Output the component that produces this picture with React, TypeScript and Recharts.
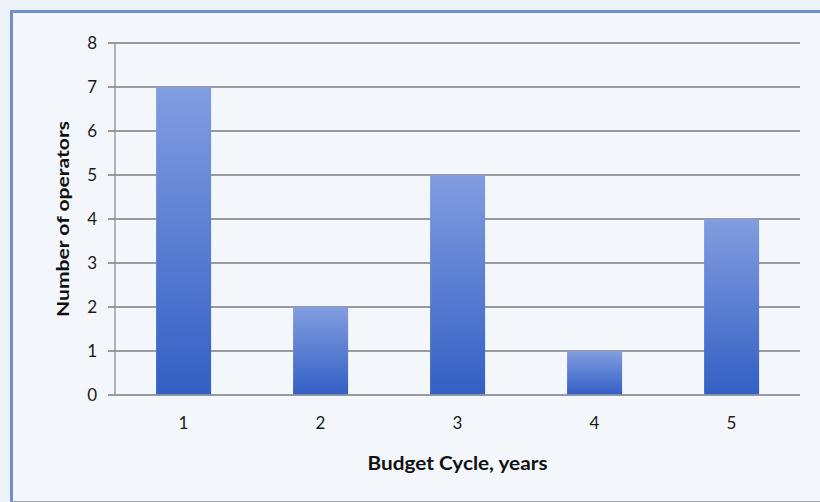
import { BarChart, Bar, XAxis, YAxis, CartesianGrid } from "recharts";

const cycles = ["1", "2", "3", "4", "5"];
const operators = [7, 2, 5, 1, 4];
const yTicks = [0, 1, 2, 3, 4, 5, 6, 7, 8];
const edgeTicks = [0, 1, 2, 3, 4, 5];
const xTitle = "Budget Cycle, years";
const yTitle = "Number of operators";

const data = cycles.map((c, i) => ({ cycle: c, operators: operators[i] }));

const font = "Lato, 'Open Sans', sans-serif";

// axis titles drawn as plain svg text so they can be centred and stretched like the source
function YTitle(props: any) {
  const vb = props.viewBox || {};
  const cx = vb.x - 8;
  const cy = vb.y + vb.height / 2;
  return (
    <text
      x={cx}
      y={cy}
      transform={`rotate(-90, ${cx}, ${cy})`}
      textAnchor="middle"
      dominantBaseline="central"
      fontFamily={font}
      fontWeight={700}
      fontSize={17}
      fill="#111"
      textLength={196}
      lengthAdjust="spacingAndGlyphs"
    >
      {yTitle}
    </text>
  );
}

function XTitle(props: any) {
  const vb = props.viewBox || {};
  const cx = vb.x + vb.width / 2;
  return (
    <text
      x={cx}
      y={463}
      textAnchor="middle"
      dominantBaseline="central"
      fontFamily={font}
      fontWeight={700}
      fontSize={18}
      fill="#111"
      textLength={180}
      lengthAdjust="spacingAndGlyphs"
    >
      {xTitle}
    </text>
  );
}

export default function App() {
  return (
    <div
      style={{
        position: "fixed",
        left: 0,
        top: 0,
        width: 820,
        height: 502,
        background: "#eef2f9",
        overflow: "hidden",
        fontFamily: font,
      }}
    >
      <div
        style={{
          position: "absolute",
          left: 10,
          top: 10,
          width: 830,
          height: 488,
          borderLeft: "3px solid #6f8fcf",
          borderTop: "3px solid #6f8fcf",
          borderBottom: "2px solid #a3a7b3",
          background: "#f3f6fb",
        }}
      />
      <div style={{ position: "absolute", left: 0, top: 0 }}>
        <BarChart
          width={820}
          height={502}
          data={data}
          margin={{ top: 43, right: 20, bottom: 72, left: 70 }}
          barCategoryGap="30%"
        >
          <defs>
            <linearGradient id="barFill" x1="0" y1="0" x2="0" y2="1">
              <stop offset="0%" stopColor="#829de0" />
              <stop offset="100%" stopColor="#335fc4" />
            </linearGradient>
          </defs>
          <CartesianGrid vertical={false} stroke="#7a7a83" strokeWidth={1.5} />
          <XAxis
            xAxisId="a"
            type="number"
            domain={[0, 5]}
            ticks={edgeTicks}
            tick={false}
            height={5}
            axisLine={{ stroke: "#9a9aa4", strokeWidth: 1.5 }}
            tickLine={{ stroke: "#9a9aa4", strokeWidth: 1.5 }}
            tickSize={6}
          />
          <XAxis
            xAxisId="b"
            dataKey="cycle"
            axisLine={false}
            tickLine={false}
            tickMargin={11}
            height={30}
            tick={{ fill: "#1a1a1a", fontSize: 17, fontFamily: font }}
            label={<XTitle />}
          />
          <YAxis
            width={45}
            domain={[0, 8]}
            ticks={yTicks}
            interval={0}
            axisLine={{ stroke: "#9a9aa4", strokeWidth: 1.5 }}
            tickLine={{ stroke: "#7a7a83", strokeWidth: 1.5 }}
            tickSize={7}
            tickMargin={11}
            tick={{ fill: "#1a1a1a", fontSize: 17, fontFamily: font }}
            label={<YTitle />}
          />
          <Bar
            xAxisId="b"
            dataKey="operators"
            fill="url(#barFill)"
            isAnimationActive={false}
          />
        </BarChart>
      </div>
    </div>
  );
}
